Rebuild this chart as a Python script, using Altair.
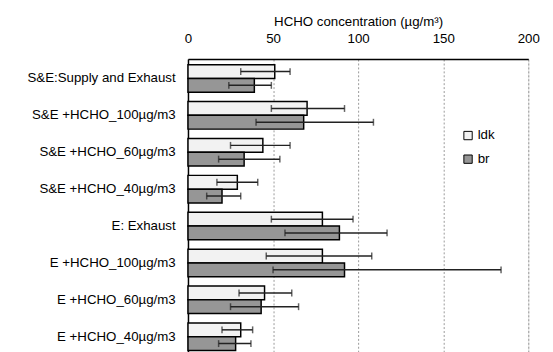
import altair as alt
import pandas as pd

categories = ["S&E:Supply and Exhaust", "S&E +HCHO_100µg/m3", "S&E +HCHO_60µg/m3",
              "S&E +HCHO_40µg/m3", "E: Exhaust", "E +HCHO_100µg/m3",
              "E +HCHO_60µg/m3", "E +HCHO_40µg/m3"]
series = ["ldk", "br"]

ldk_mean = [51, 70, 44, 29, 79, 79, 45, 31]
ldk_low = [31, 49, 25, 17, 49, 46, 30, 20]
ldk_high = [60, 92, 60, 41, 97, 108, 61, 38]
br_mean = [39, 68, 33, 20, 89, 92, 43, 28]
br_low = [24, 40, 18, 11, 57, 50, 25, 18]
br_high = [49, 109, 54, 31, 117, 184, 65, 37]

rows = []
for i, c in enumerate(categories):
    rows.append({"cat": c, "s": "ldk", "v": ldk_mean[i], "lo": ldk_low[i], "hi": ldk_high[i]})
    rows.append({"cat": c, "s": "br", "v": br_mean[i], "lo": br_low[i], "hi": br_high[i]})
df = pd.DataFrame(rows)

FONT = "Liberation Sans"
FS = 13.5

y_enc = alt.Y("cat:N", sort=categories,
              scale=alt.Scale(paddingInner=0.2533, paddingOuter=0.152),
              axis=alt.Axis(title=None, ticks=False, tickSize=0, labelPadding=13,
                            labelFontSize=FS, labelFont=FONT, labelColor="black",
                            domainColor="black", domainWidth=1.5, grid=False))
yoff = alt.YOffset("s:N", sort=series, scale=alt.Scale(paddingInner=0, paddingOuter=0))

x_scale = alt.Scale(domain=[0, 200], nice=False)
x_axis = alt.Axis(orient="top", values=[0, 50, 100, 150, 200], title="HCHO concentration (µg/m³)",
                  ticks=False, tickSize=0, labelPadding=13.5, titlePadding=4, labelFlush=False,
                  labelFontSize=FS, titleFontSize=FS, labelFont=FONT, titleFont=FONT,
                  titleFontWeight="normal", labelColor="black", titleColor="black",
                  domainColor="black", domainWidth=1.5,
                  grid=True, gridColor="#999999", gridDash=[2, 2], gridWidth=1)

base = alt.Chart(df)

bars = base.mark_bar(stroke="black", strokeWidth=1.5).encode(
    x=alt.X("v:Q", scale=x_scale, axis=x_axis),
    y=y_enc,
    yOffset=yoff,
    fill=alt.Fill("s:N", sort=series,
                  scale=alt.Scale(domain=series, range=["#f2f2f2", "#969696"]),
                  legend=alt.Legend(title=None, orient="none", legendX=278, legendY=71,
                                    symbolType="square", symbolSize=72,
                                    symbolStrokeColor="black", symbolStrokeWidth=1,
                                    labelFontSize=FS, labelFont=FONT, labelColor="black",
                                    rowPadding=9, labelOffset=3)),
)

err = base.mark_rule(color="#222222", strokeWidth=1.5).encode(
    x="lo:Q", x2="hi:Q", y=alt.Y("cat:N", sort=categories), yOffset=alt.YOffset("s:N", sort=series))

cap_lo = base.mark_tick(color="#222222", thickness=1.5, size=7).encode(
    x="lo:Q", y=alt.Y("cat:N", sort=categories), yOffset=alt.YOffset("s:N", sort=series))
cap_hi = base.mark_tick(color="#222222", thickness=1.5, size=7).encode(
    x="hi:Q", y=alt.Y("cat:N", sort=categories), yOffset=alt.YOffset("s:N", sort=series))

chart = alt.layer(bars, err, cap_lo, cap_hi).properties(
    width=346, height=302,
    padding={"left": 19, "top": 3, "right": 5, "bottom": 0},
).configure_view(stroke="#999999", strokeWidth=1.5).configure(font=FONT)

chart.save("out.html", embed_options={"renderer": "svg", "actions": False})
